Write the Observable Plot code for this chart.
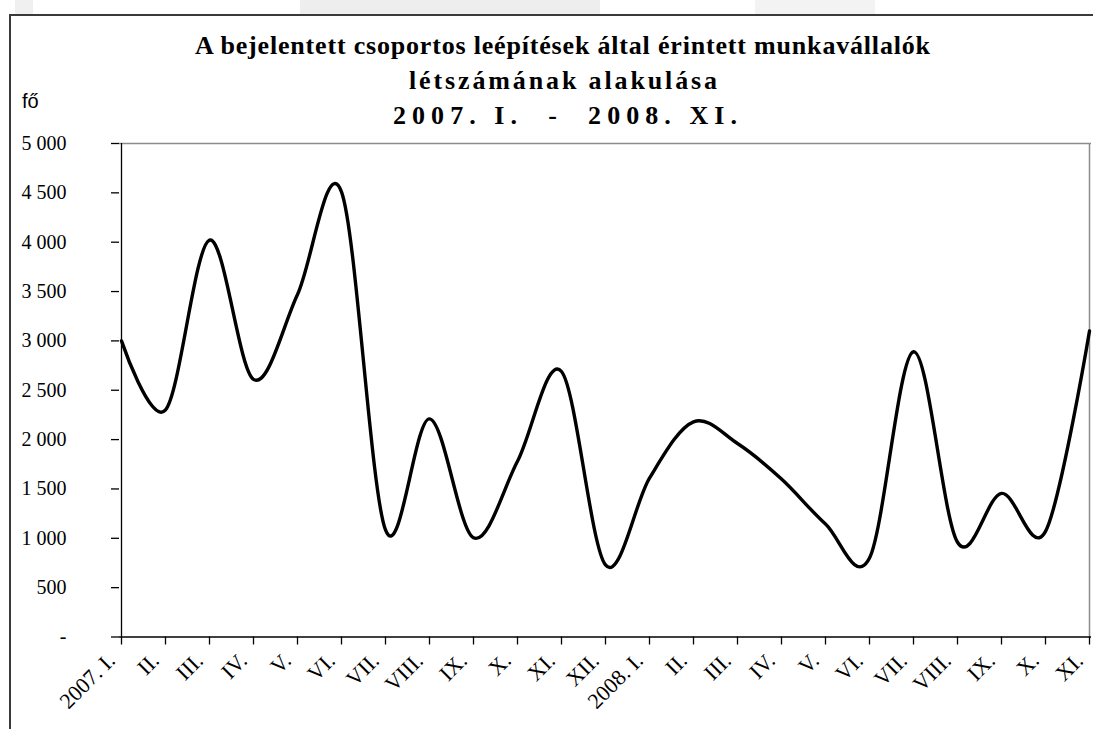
<!DOCTYPE html>
<html>
<head>
<meta charset="utf-8">
<script src="https://cdn.jsdelivr.net/npm/d3@7"></script>
<script src="https://cdn.jsdelivr.net/npm/@observablehq/plot@0.6"></script>
<style>
  html, body { margin: 0; padding: 0; background: #fff; }
  body { width: 1093px; height: 729px; overflow: hidden; position: relative; }
  .blk { position: absolute; top: 0; height: 14px; }
  #box { position: absolute; left: 9px; top: 14px; width: 2000px; height: 2000px;
         border-left: 2px solid #3a3a3a; border-top: 2px solid #3a3a3a; }
  #title { position: absolute; left: 0; top: 0; }
  #title text { white-space: pre; }
  #unit { position: absolute; left: 22px; top: 90px; font-family: "Liberation Sans", Arial, sans-serif; font-size: 20px; color: #000; }
  #chart { position: absolute; left: 0; top: 130px; }
</style>
</head>
<body>
<div class="blk" style="left:15px;width:18px;background:#f0f0f0"></div>
<div class="blk" style="left:300px;width:300px;background:#eeeeee"></div>
<div class="blk" style="left:755px;width:120px;background:#f3f3f3"></div>
<div id="box"></div>
<svg id="title" width="1093" height="130" font-family="'Liberation Serif','Times New Roman',serif" font-weight="bold" font-size="26" fill="#000">
  <text x="195" y="54" textLength="735" lengthAdjust="spacing">A bejelentett csoportos leépítések által érintett munkavállalók</text>
  <text x="409" y="89" textLength="308" lengthAdjust="spacing">létszámának alakulása</text>
  <text x="393" y="124" textLength="344" lengthAdjust="spacing">2007. I.  -  2008. XI.</text>
</svg>
<div id="unit">fő</div>
<div id="chart"></div>
<script>
// Categories (months)
const months = ["2007. I.","II.","III.","IV.","V.","VI.","VII.","VIII.","IX.","X.","XI.","XII.",
                "2008. I.","II.","III.","IV.","V.","VI.","VII.","VIII.","IX.","X.","XI."];
// Number of affected employees (fő)
const employees = [3000, 2300, 4020, 2610, 3470, 4510, 1085, 2210, 1005, 1780, 2690, 730,
                   1610, 2180, 1960, 1600, 1145, 800, 2890, 960, 1455, 1070, 3100];
// Y tick values and labels
const yTicks = [0, 500, 1000, 1500, 2000, 2500, 3000, 3500, 4000, 4500, 5000];
const yTickLabels = ["-", "500", "1 000", "1 500", "2 000", "2 500", "3 000", "3 500", "4 000", "4 500", "5 000"];

const data = months.map((m, i) => ({i, m, v: employees[i]}));
const idx = d3.range(months.length);

const chart = Plot.plot({
  width: 1093,
  height: 599,
  marginLeft: 119,
  marginRight: 2,
  marginTop: 13,
  marginBottom: 92.5,
  style: {fontFamily: "'Liberation Serif','Times New Roman',serif", fontSize: "20px", color: "#000", background: "transparent", overflow: "visible"},
  x: {type: "point", domain: idx, padding: 0, axis: null, label: null},
  y: {domain: [0, 5000], axis: null, label: null},
  marks: [
    Plot.ruleY([5000], {stroke: "#8c8c8c", strokeWidth: 1.5}),
    Plot.ruleX([months.length - 1], {stroke: "#8c8c8c", strokeWidth: 1.5}),
    Plot.line(data, {x: "i", y: "v", curve: "cardinal", tension: 0, stroke: "#000", strokeWidth: 3.4, strokeLinejoin: "round"}),
    Plot.axisY(yTicks, {tickSize: 8, tickPadding: 45, label: null, strokeWidth: 1.3, fontSize: 20,
      tickFormat: d => yTickLabels[yTicks.indexOf(d)]}),
    Plot.axisX(idx, {tickSize: 8, label: null, strokeWidth: 1.3, tickFormat: () => ""}),
    Plot.axisX(idx, {tickSize: 0, tickPadding: 20, tickRotate: -45, dx: -10, label: null, fontSize: 22,
      tickFormat: i => months[i]}),
    Plot.ruleX([0], {stroke: "#000", strokeWidth: 1.3}),
    Plot.ruleY([0], {stroke: "#000", strokeWidth: 1.3})
  ]
});
document.getElementById("chart").appendChild(chart);
</script>
</body>
</html>
